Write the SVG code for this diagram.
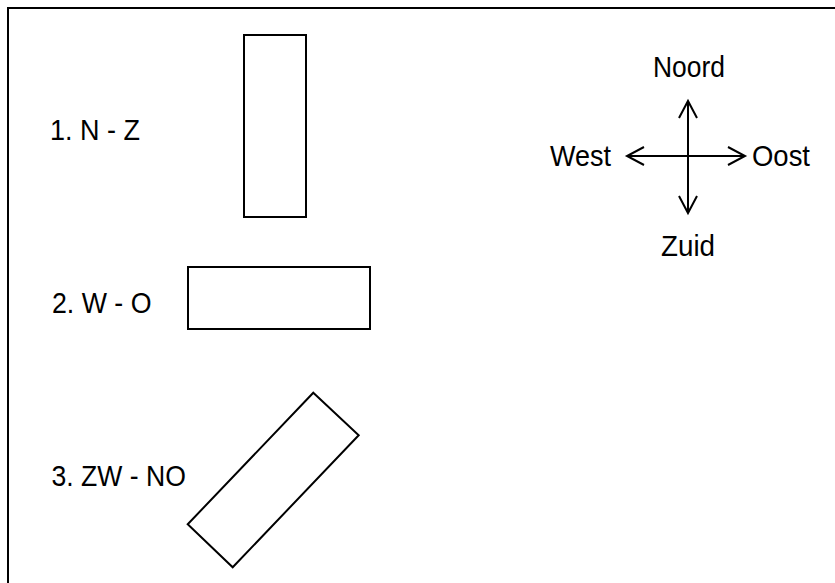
<svg xmlns="http://www.w3.org/2000/svg" width="835" height="583" viewBox="0 0 835 583">
  <style>
    .shape { fill: #ffffff; stroke: #000000; stroke-width: 2; }
    .frame { fill: none; stroke: #000000; stroke-width: 2; }
    .label { font-family: "Liberation Sans", Arial, sans-serif; font-size: 29px; fill: #000000; }
    .axis { fill: none; stroke: #000000; stroke-width: 2; marker-start: url(#open-arrow); marker-end: url(#open-arrow); }
  </style>
  <defs>
    <marker id="open-arrow" markerUnits="userSpaceOnUse" viewBox="-20 -12 24 24" markerWidth="24" markerHeight="24" refX="0" refY="0" orient="auto-start-reverse">
      <path d="M -17 -9 L 0 0 L -17 9" fill="none" stroke="#000000" stroke-width="2"/>
    </marker>
  </defs>

  <rect x="0" y="0" width="835" height="583" fill="#ffffff"/>
  <path class="frame" d="M 8 583 V 8 H 835"/>

  <!-- orientation samples -->
  <g id="label-nz"><text class="label" x="50" y="139.5" textLength="90" lengthAdjust="spacingAndGlyphs">1. N - Z</text></g>
  <g id="box-nz"><rect class="shape" x="244" y="35" width="62" height="182"/></g>

  <g id="label-wo"><text class="label" x="52" y="312.5" textLength="99.5" lengthAdjust="spacingAndGlyphs">2. W - O</text></g>
  <g id="box-wo"><rect class="shape" x="188" y="267" width="182" height="62"/></g>

  <g id="label-zwno"><text class="label" x="51.5" y="486" textLength="134.5" lengthAdjust="spacingAndGlyphs">3. ZW - NO</text></g>
  <g id="box-zwno"><polygon class="shape" points="313.3,392.7 358.7,435.3 232.7,567.3 187.7,524.3"/></g>

  <!-- compass rose -->
  <g id="compass-axes">
    <line class="axis" x1="688" y1="213" x2="688" y2="101"/>
    <line class="axis" x1="627" y1="156" x2="745" y2="156"/>
  </g>
  <g id="noord"><text class="label" x="653" y="76.7" textLength="72" lengthAdjust="spacingAndGlyphs">Noord</text></g>
  <g id="west"><text class="label" x="550" y="165.7" textLength="61" lengthAdjust="spacingAndGlyphs">West</text></g>
  <g id="oost"><text class="label" x="752" y="165.7" textLength="58" lengthAdjust="spacingAndGlyphs">Oost</text></g>
  <g id="zuid"><text class="label" x="661" y="256" textLength="54" lengthAdjust="spacingAndGlyphs">Zuid</text></g>
</svg>
